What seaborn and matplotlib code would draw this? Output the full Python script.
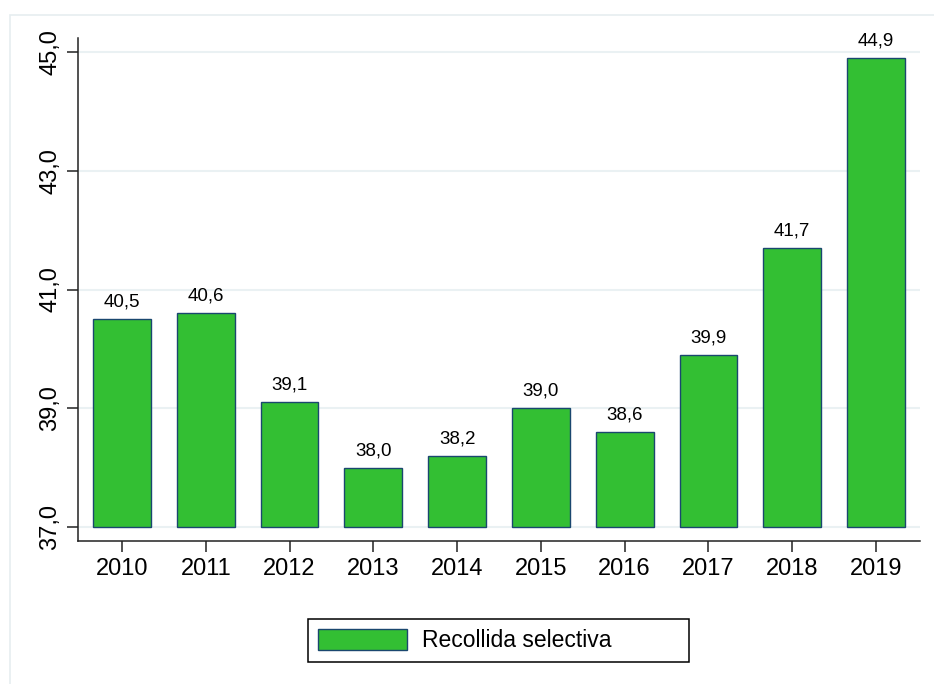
import pandas as pd
import matplotlib.pyplot as plt
import seaborn as sns
from matplotlib.patches import Rectangle

anys = ['2010', '2011', '2012', '2013', '2014', '2015', '2016', '2017', '2018', '2019']
valors = [40.5, 40.6, 39.1, 38.0, 38.2, 39.0, 38.6, 39.9, 41.7, 44.9]
ticks_y = [37, 39, 41, 43, 45]
base = 37

df = pd.DataFrame({'any': anys, 'valor': valors})

sns.set_theme(style='white')
plt.rcParams['font.family'] = ['Liberation Sans', 'DejaVu Sans']
plt.rcParams['text.color'] = 'black'
plt.rcParams['xtick.labelcolor'] = 'black'
plt.rcParams['ytick.labelcolor'] = 'black'

verd = '#33bf33'
vora = '#1a476f'

fig = plt.figure(figsize=(9.34, 6.84), dpi=100)
# marc exterior clar
fig.patches.append(Rectangle((10 / 934, -0.2), 1.2, 1.2 - 15 / 684,
                             transform=fig.transFigure, fill=False,
                             edgecolor='#e6edf0', linewidth=1.2, zorder=0))
ax = fig.add_axes([78 / 934, 1 - 541 / 684, (920 - 78) / 934, (541 - 38) / 684])

sns.barplot(data=df, x='any', y='valor', color=verd, width=0.69,
            edgecolor=vora, linewidth=1.0, saturation=1, ax=ax, zorder=3)

# les barres comencen a 37
for p, v in zip(ax.patches, valors):
    p.set_y(base)
    p.set_height(v - base)

ax.bar_label(ax.containers[0], fmt=lambda x: f'{x:.1f}'.replace('.', ','),
             padding=6, fontsize=13.5, color='black')

ax.set_ylim(36.764, 45.236)
ax.set_xlim(-0.525, 9.525)
ax.set_yticks(ticks_y)
ax.set_yticklabels([f'{t:.1f}'.replace('.', ',') for t in ticks_y],
                   rotation=90, va='center', fontsize=17)
ax.tick_params(axis='x', labelsize=17)
ax.tick_params(axis='both', direction='out', length=8, width=1.1,
               color='#222222', left=True, bottom=True, pad=4)
ax.yaxis.grid(True, color='#eaf1f3', linewidth=1.5, zorder=0)
ax.set_axisbelow(True)
ax.set_xlabel('')
ax.set_ylabel('')
sns.despine(ax=ax)
for s in ['left', 'bottom']:
    ax.spines[s].set_color('#222222')
    ax.spines[s].set_linewidth(1.1)

# llegenda: caixa fixa i contingut a l'esquerra
fig.patches.append(Rectangle((308 / 934, 1 - 662 / 684), 381 / 934, 43 / 684,
                             transform=fig.transFigure, fill=False,
                             edgecolor='black', linewidth=1.1))
handle = Rectangle((0, 0), 1, 1, facecolor=verd, edgecolor=vora, linewidth=1.0)
fig.legend([handle], ['Recollida selectiva'], loc='center left',
           bbox_to_anchor=(318 / 934, 1 - 640.5 / 684), fontsize=16.5,
           frameon=False, handlelength=3.9, handleheight=1.05,
           handletextpad=0.65, borderpad=0, borderaxespad=0)

fig.savefig('out.png', dpi=100)
